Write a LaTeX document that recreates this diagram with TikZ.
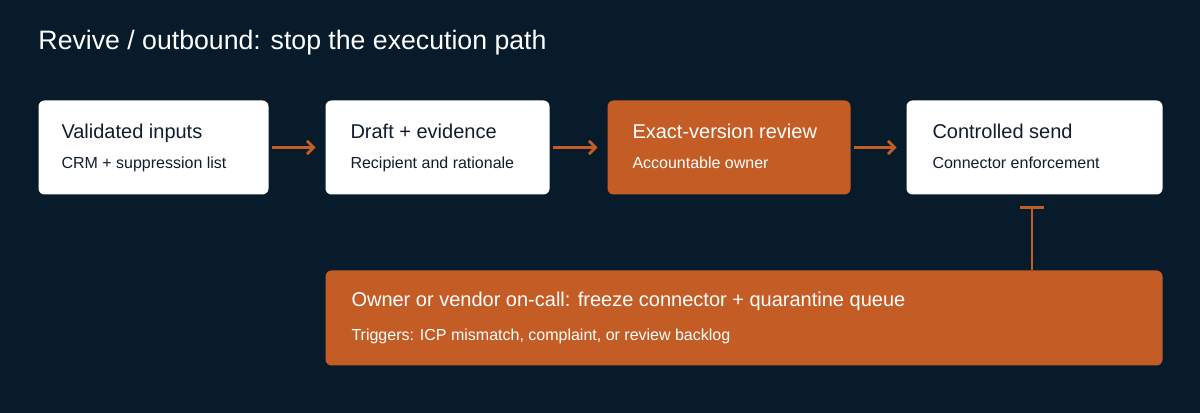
\documentclass[tikz,border=0pt]{standalone}
\usepackage{fontspec}
\setmainfont{Liberation Sans}
\usetikzlibrary{arrows.meta}
\definecolor{bgnavy}{RGB}{8,27,43}
\definecolor{burnt}{RGB}{196,92,38}
\definecolor{inkdark}{RGB}{16,30,44}
\tikzset{every picture/.style={line width=0.75pt},
  box/.style={rounded corners=4.5pt, inner sep=0pt, anchor=north west},
  plain/.style={box, fill=white},
  hot/.style={box, fill=burnt},
  head/.style={anchor=base west, inner sep=0pt, font=\fontsize{15}{18}\selectfont},
  sub/.style={anchor=base west, inner sep=0pt, font=\fontsize{12}{14}\selectfont},
  flow/.style={draw=burnt, line width=2.2pt, -{Straight Barb[length=5pt,width=10pt,line width=2.2pt]}}
}
\begin{document}
\begin{tikzpicture}[x=0.75pt,y=0.75pt,yscale=-1,xscale=1]
    \fill[bgnavy] (0,0) rectangle (1200,413);
    \useasboundingbox (0,0) rectangle (1200,413);

    % Title
    \node (title) [anchor=base west, inner sep=0pt, text=white, font=\fontsize{20}{24}\selectfont] at (38,50) {Revive / outbound: stop the execution path};

    % Boxes
    \node (inputs) [plain, minimum width=172.5pt, minimum height=70.5pt] at (38,100) {};
    \node (draft) [plain, minimum width=168pt, minimum height=70.5pt] at (325,100) {};
    \node (review) [hot, minimum width=182.25pt, minimum height=70.5pt] at (607,100) {};
    \node (send) [plain, minimum width=192pt, minimum height=70.5pt] at (906,100) {};
    \node (freeze) [hot, minimum width=627.75pt, minimum height=71.25pt] at (325,270) {};

    % Texts
    \node (inputsA) [head, text=inkdark] at (61,139) {Validated inputs};
    \node (inputsB) [sub, text=inkdark] at (61,169) {CRM + suppression list};
    \node (draftA) [head, text=inkdark] at (350,139) {Draft + evidence};
    \node (draftB) [sub, text=inkdark] at (350,169) {Recipient and rationale};
    \node (reviewA) [head, text=white] at (632,139) {Exact-version review};
    \node (reviewB) [sub, text=white] at (632,169) {Accountable owner};
    \node (sendA) [head, text=inkdark] at (932,139) {Controlled send};
    \node (sendB) [sub, text=inkdark] at (932,169) {Connector enforcement};
    \node (freezeA) [head, text=white] at (351,307) {Owner or vendor on-call: freeze connector + quarantine queue};
    \node (freezeB) [sub, text=white] at (351,340) {Triggers: ICP mismatch, complaint, or review backlog};

    % Connectors
    \draw [flow] ([xshift=2pt]inputs.east) -- ([xshift=-7pt]draft.west);
    \draw [flow] ([xshift=2pt]draft.east) -- ([xshift=-7pt]review.west);
    \draw [flow] ([xshift=2pt]review.east) -- ([xshift=-7pt]send.west);
    \coordinate (stop) at (1032,206);
    \draw [draw=burnt, line width=2.2pt, -{Bar[width=18pt,line width=2.2pt]}] (freeze.north -| stop) -- (stop);
\end{tikzpicture}
\end{document}
